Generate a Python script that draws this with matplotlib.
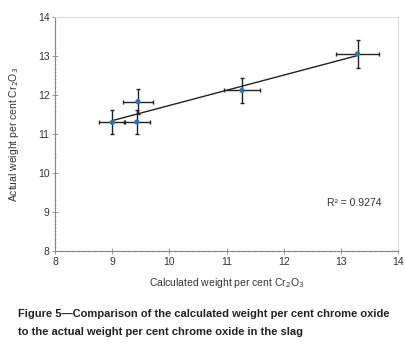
import numpy as np
import matplotlib
matplotlib.use("Agg")
import matplotlib.pyplot as plt
from matplotlib.ticker import MultipleLocator

plt.rcParams['font.family'] = ['Liberation Sans', 'DejaVu Sans']

calc = [9.0, 9.45, 9.43, 11.27, 13.29]
actual = [11.3, 11.83, 11.31, 12.12, 13.06]
x_err = [0.23, 0.27, 0.23, 0.32, 0.37]
y_err = [0.31, 0.32, 0.31, 0.33, 0.36]
r2_label = "R² = 0.9274"
xlabel = "Calculated weight per cent Cr$_2$O$_3$"
ylabel = "Actual weight per cent Cr$_2$O$_3$"
caption = ("Figure 5\u2014Comparison of the calculated weight per cent chrome oxide\n"
           "to the actual weight per cent chrome oxide in the slag")

fig = plt.figure(figsize=(4.05, 3.5), dpi=100)
ax = fig.add_axes([0.136, 0.283, 0.847, 0.668])

x = np.array(calc)
y = np.array(actual)
m, b = np.polyfit(x, y, 1)
xs = np.array([x.min(), x.max()])
ax.plot(xs, m * xs + b, color='#222222', lw=1.0, zorder=2)

ax.errorbar(calc, actual, xerr=x_err, yerr=y_err, fmt='none', ecolor='#222222',
            elinewidth=1.0, capsize=1.5, capthick=1.0, zorder=3)
ax.scatter(calc, actual, s=14, color='#1f77c4', zorder=4, edgecolors='none')

ax.set_xlim(8, 14)
ax.set_ylim(8, 14)
ax.xaxis.set_major_locator(MultipleLocator(1))
ax.yaxis.set_major_locator(MultipleLocator(1))
ax.xaxis.set_minor_locator(MultipleLocator(0.1))
ax.yaxis.set_minor_locator(MultipleLocator(0.1))
ax.tick_params(which='major', direction='inout', length=4, width=0.6, color='#888888',
               labelsize=7.5, labelcolor='#333333', pad=2)
ax.tick_params(which='minor', direction='inout', length=2, width=0.5, color='#aaaaaa')
for s in ['left', 'bottom']:
    ax.spines[s].set_color('#888888')
    ax.spines[s].set_linewidth(0.8)
for s in ['top', 'right']:
    ax.spines[s].set_color('#dddddd')
    ax.spines[s].set_linewidth(0.8)

ax.set_xlabel(xlabel, fontsize=7.5, color='#333333', labelpad=7)
ax.set_ylabel(ylabel, fontsize=7.5, color='#333333', labelpad=12)
ax.text(12.75, 9.24, r2_label, fontsize=7.5, color='#333333', va='center', ha='left')

fig.text(0.045, 0.077, caption, fontsize=8.05, fontweight='bold', color='#222222',
         va='center', ha='left', linespacing=1.95)

fig.savefig("out.png", dpi=100)
